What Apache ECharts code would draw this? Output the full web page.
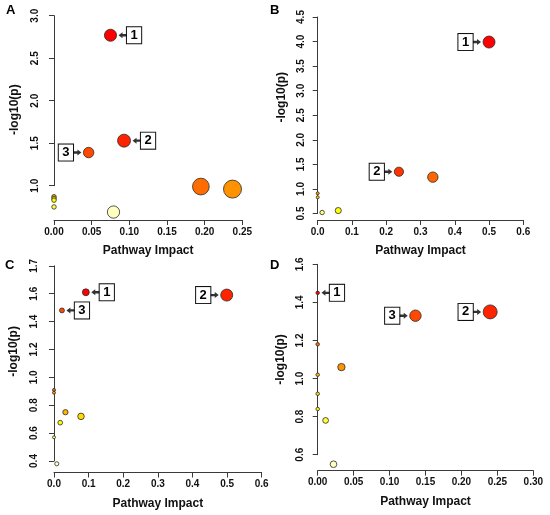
<!DOCTYPE html>
<html>
<head>
<meta charset="utf-8">
<script src="https://cdn.jsdelivr.net/npm/echarts@6/dist/echarts.min.js"></script>
<style>
html, body { margin: 0; padding: 0; background: #fff; }
#chart { width: 550px; height: 515px; }
</style>
</head>
<body>
<div id="chart"></div>
<script>
// panel A
var impactA = [0.075, 0.093, 0.046, 0.195, 0.237, 0, 0, 0, 0, 0.079];
var logpA   = [2.77, 1.53, 1.39, 0.99, 0.96, 0.87, 0.85, 0.83, 0.75, 0.69];
var tagA    = ['1', '2', '3', '', '', '', '', '', '', ''];
// panel B
var impactB = [0.500, 0.237, 0.336, 0, 0, 0.060, 0.013];
var logpB   = [3.99, 1.35, 1.24, 0.91, 0.83, 0.56, 0.52];
var tagB    = ['1', '2', '', '', '', '', ''];
// panel C
var impactC = [0.092, 0.499, 0.023, 0, 0, 0.033, 0.078, 0.018, 0, 0.008];
var logpC   = [1.61, 1.59, 1.48, 0.91, 0.89, 0.75, 0.72, 0.675, 0.57, 0.38];
var tagC    = ['1', '2', '3', '', '', '', '', '', '', ''];
// panel D
var impactD = [0, 0.240, 0.136, 0, 0.033, 0, 0, 0, 0.011, 0.022];
var logpD   = [1.45, 1.35, 1.33, 1.18, 1.06, 1.02, 0.92, 0.84, 0.78, 0.55];
var tagD    = ['1', '2', '3', '', '', '', '', '', '', ''];

// tick labels, as printed
var xTicksA = ['0.00', '0.05', '0.10', '0.15', '0.20', '0.25'];
var yTicksA = ['1.0', '1.5', '2.0', '2.5', '3.0'];
var xTicksB = ['0.0', '0.1', '0.2', '0.3', '0.4', '0.5', '0.6'];
var yTicksB = ['0.5', '1.0', '1.5', '2.0', '2.5', '3.0', '3.5', '4.0', '4.5'];
var xTicksC = ['0.0', '0.1', '0.2', '0.3', '0.4', '0.5', '0.6'];
var yTicksC = ['0.4', '0.6', '0.8', '1.0', '1.2', '1.4', '1.6', '1.7'];
var xTicksD = ['0.00', '0.05', '0.10', '0.15', '0.20', '0.25', '0.30'];
var yTicksD = ['0.6', '0.8', '1.0', '1.2', '1.4', '1.6'];

var FONT = '"Liberation Sans", Arial, sans-serif';
var ARROW = 'path://M0,5L5,0L5,3L10,3L10,7L5,7L5,10Z';

var panels = [
  { letter: 'A', lx: 6, ly: 4, impact: impactA, logp: logpA, tag: tagA, xt: xTicksA, yt: yTicksA,
    xr: [0, 0.25, 0.05], yr: [1, 3, 0.5],
    grid: { left: 54, top: 15.7, width: 188.3, height: 170 }, yOff: 9, xOff: 34.3,
    maxR: 9, left: { '3': 1 }, yShift: 9 },
  { letter: 'B', lx: 270, ly: 4, impact: impactB, logp: logpB, tag: tagB, xt: xTicksB, yt: yTicksB,
    xr: [0, 0.6, 0.1], yr: [0.5, 4.5, 0.5],
    grid: { left: 317.7, top: 17, width: 205.6, height: 196.5 }, yOff: 6, xOff: 6.5,
    maxR: 6, left: { '1': 1, '2': 1 }, yShift: -18 },
  { letter: 'C', lx: 5, ly: 259, impact: impactC, logp: logpC, tag: tagC, xt: xTicksC, yt: yTicksC,
    xr: [0, 0.6, 0.1], yr: [0.4, 1.8, 0.2],
    grid: { left: 54, top: 265.8, width: 207.7, height: 195.2 }, yOff: 10, xOff: 11.5,
    maxR: 6, left: { '2': 1 }, yShift: -12 },
  { letter: 'D', lx: 270, ly: 259, impact: impactD, logp: logpD, tag: tagD, xt: xTicksD, yt: yTicksD,
    xr: [0, 0.3, 0.05], yr: [0.6, 1.6, 0.2],
    grid: { left: 317.7, top: 264.3, width: 215.6, height: 190.4 }, yOff: 7, xOff: 15.9,
    maxR: 7, left: { '2': 1, '3': 1 }, yShift: 0 }
];

// R heat.colors(n)
function heatColors(n) {
  var j = Math.floor(n / 4), i = n - j, out = [], k;
  function hex(r, g, b) {
    return '#' + [r, g, b].map(function (v) {
      var s = Math.round(v * 255).toString(16);
      return s.length < 2 ? '0' + s : s;
    }).join('');
  }
  for (k = 0; k < i; k++) {
    var h = i > 1 ? k / (i - 1) / 6 : 0;
    out.push(hex(1, 6 * h, 0));
  }
  for (k = 0; k < j; k++) {
    var s0 = 1 - 1 / (2 * j), s1 = 1 / (2 * j);
    var s = j > 1 ? s0 + k * (s1 - s0) / (j - 1) : s0;
    out.push(hex(1, 1, 1 - s));
  }
  return out;
}

var grids = [], xAxes = [], yAxes = [], series = [], titles = [];

panels.forEach(function (p, gi) {
  var n = p.logp.length;
  var order = p.logp.map(function (v, i) { return i; })
    .sort(function (a, b) { return p.logp[b] - p.logp[a]; });
  var cols = heatColors(n);
  var xmax = Math.max.apply(null, p.impact);
  var minR = p.maxR / 4;
  function rad(x) { return minR + (p.maxR - minR) * Math.sqrt(x) / Math.sqrt(xmax); }

  grids.push({ left: p.grid.left, top: p.grid.top, width: p.grid.width, height: p.grid.height,
    containLabel: false, outerBoundsMode: 'none' });
  titles.push({ text: p.letter, left: p.lx, top: p.ly, padding: 0,
    textStyle: { fontFamily: FONT, fontSize: 13, fontWeight: 'bold', color: '#000' } });

  var axisStyle = { color: '#3a3a3a', width: 1 };
  xAxes.push({
    gridIndex: gi, type: 'value', min: p.xr[0], max: p.xr[1], interval: p.xr[2],
    offset: p.xOff,
    axisLine: { show: true, lineStyle: axisStyle },
    axisTick: { show: true, length: 5, lineStyle: axisStyle },
    splitLine: { show: false },
    axisLabel: { margin: 7, fontFamily: FONT, fontSize: 10, fontWeight: 'bold', color: '#111',
      formatter: function (v, i) { return p.xt[i]; } },
    name: 'Pathway Impact', nameLocation: 'middle', nameGap: 25, nameMoveOverlap: false,
    nameTextStyle: { fontFamily: FONT, fontSize: 12, fontWeight: 'bold', color: '#111' }
  });
  var yPad = p.yShift >= 0 ? [0, 2 * p.yShift, 0, 0] : [0, 0, 0, -2 * p.yShift];
  yAxes.push({
    gridIndex: gi, type: 'value', min: p.yr[0], max: p.yr[1], interval: p.yr[2],
    offset: p.yOff,
    axisLine: { show: true, lineStyle: axisStyle },
    axisTick: { show: true, length: 5, lineStyle: axisStyle },
    splitLine: { show: false },
    axisLabel: { rotate: 90, margin: 5, fontFamily: FONT, fontSize: 10, fontWeight: 'bold', color: '#111',
      formatter: function (v, i) { return p.yt[i]; } },
    name: '-log10(p)', nameLocation: 'middle', nameGap: 24, nameRotate: 90, nameMoveOverlap: false,
    nameTextStyle: { fontFamily: FONT, fontSize: 12, fontWeight: 'bold', color: '#111', padding: yPad }
  });

  var pts = [], arrows = [];
  order.forEach(function (i, r) {
    var x = p.impact[i], y = p.logp[i], t = p.tag[i], d = 2 * rad(x);
    var onLeft = !!p.left[t];
    var item = { value: [x, y], symbolSize: d, itemStyle: { color: cols[r] } };
    if (t) {
      item.label = {
        show: true, formatter: t, position: onLeft ? 'left' : 'right', distance: 10,
        fontFamily: FONT, fontSize: 13, fontWeight: 'bold', color: '#000',
        backgroundColor: '#fff', borderColor: '#111', borderWidth: 1, padding: [2, 3.5, 1, 3.5]
      };
      arrows.push({ value: [x, y], symbolOffset: [(onLeft ? -1 : 1) * (d / 2 + 6), 0],
        symbolRotate: onLeft ? 180 : 0 });
    }
    pts.push(item);
  });

  series.push({
    type: 'scatter', xAxisIndex: gi, yAxisIndex: gi, clip: false, silent: true,
    symbol: 'circle', data: pts, z: 2,
    itemStyle: { borderColor: '#2a2a2a', borderWidth: 0.8, opacity: 1 }
  });
  series.push({
    type: 'scatter', xAxisIndex: gi, yAxisIndex: gi, clip: false, silent: true,
    symbol: ARROW, symbolSize: [8, 6], data: arrows, z: 3,
    itemStyle: { color: '#000' }
  });
});

var chart = echarts.init(document.getElementById('chart'), null, { renderer: 'canvas' });
chart.setOption({
  animation: false,
  backgroundColor: '#fff',
  title: titles,
  grid: grids,
  xAxis: xAxes,
  yAxis: yAxes,
  series: series
});
</script>
</body>
</html>
